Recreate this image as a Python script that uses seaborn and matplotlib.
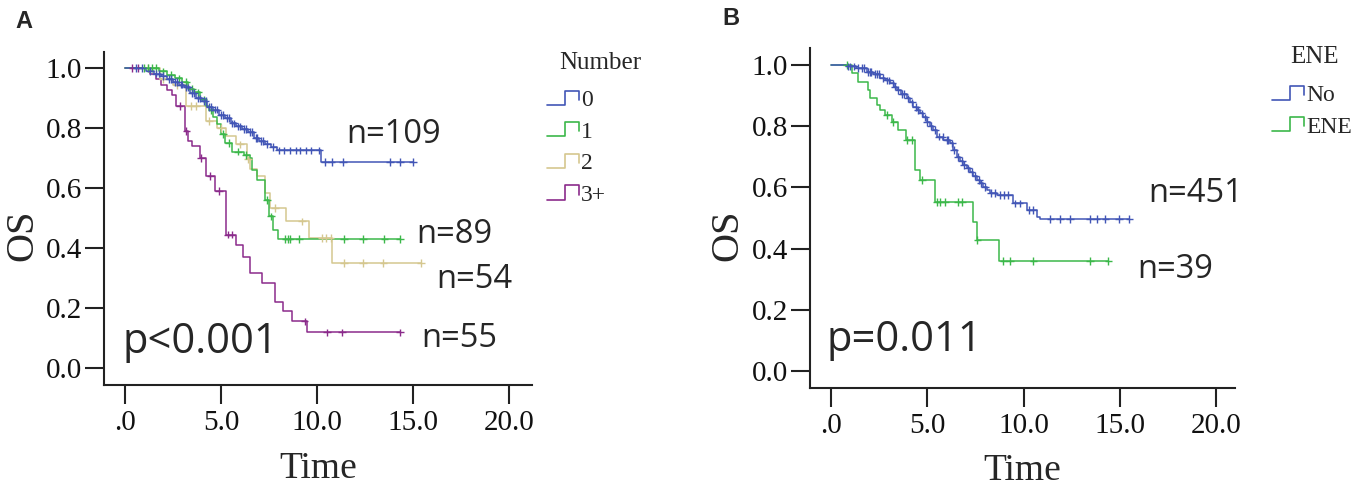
import numpy as np
import pandas as pd
import seaborn as sns
import matplotlib
matplotlib.use("Agg")
import matplotlib.pyplot as plt
from matplotlib.lines import Line2D
from matplotlib.legend_handler import HandlerBase

# ---------------- data ----------------
# Panel A: Kaplan-Meier steps per "Number" group
a_groups = ["0", "1", "2", "3+"]
a0_time = [0, 1.1, 1.5, 1.9, 2.2, 2.5, 2.8, 3.1, 3.4, 3.7, 4.0, 4.3, 4.6, 4.9, 5.2, 5.5, 5.8, 6.1, 6.4, 6.7, 7.0, 7.3, 7.6, 7.9, 10.2]
a0_surv = [1.0, 0.991, 0.982, 0.973, 0.963, 0.954, 0.945, 0.936, 0.917, 0.899, 0.890, 0.871, 0.862, 0.844, 0.834, 0.816, 0.806, 0.797, 0.788, 0.768, 0.758, 0.748, 0.737, 0.726, 0.688]
a0_cens = [0.6, 0.9, 1.3, 1.6, 1.8, 2.0, 2.3, 2.4, 2.6, 2.7, 2.9, 3.0, 3.2, 3.3, 3.5, 3.6, 3.8, 3.9, 4.1, 4.2, 4.4, 4.5, 4.7, 4.8, 5.0, 5.1, 5.3, 5.4, 5.6, 5.7, 5.9, 6.0, 6.2, 6.3, 6.5, 6.6, 6.8, 6.9, 7.1, 7.2, 7.4, 7.7, 8.0, 8.3, 8.6, 8.9, 9.1, 9.4, 9.7, 10.1, 10.4, 10.75, 11.35, 13.8, 14.3, 15.0]

a1_time = [0, 1.8, 2.2, 2.6, 3.0, 3.3, 3.6, 3.9, 4.2, 4.4, 4.6, 4.8, 5.0, 5.2, 5.6, 6.2, 6.5, 6.6, 6.85, 7.3, 7.5, 7.7, 7.95]
a1_surv = [1.0, 0.989, 0.977, 0.966, 0.954, 0.931, 0.919, 0.896, 0.873, 0.861, 0.838, 0.815, 0.78, 0.75, 0.722, 0.711, 0.70, 0.661, 0.628, 0.561, 0.506, 0.461, 0.43]
a1_cens = [1.0, 1.2, 1.4, 1.6, 2.0, 2.4, 2.8, 3.2, 3.5, 3.8, 4.1, 4.5, 5.1, 5.4, 5.9, 6.3, 7.4, 7.6, 8.35, 8.5, 8.6, 9.05, 11.4, 12.4, 13.5, 14.3]

a2_time = [0, 1.85, 2.5, 3.2, 4.2, 4.8, 5.25, 5.8, 6.35, 6.5, 6.85, 7.3, 7.55, 8.4, 9.6, 10.8]
a2_surv = [1.0, 0.963, 0.944, 0.874, 0.824, 0.80, 0.774, 0.746, 0.696, 0.663, 0.64, 0.585, 0.533, 0.489, 0.433, 0.35]
a2_cens = [1.2, 2.0, 2.7, 3.45, 3.7, 4.4, 5.0, 6.0, 6.4, 7.8, 9.2, 10.25, 10.45, 10.7, 11.4, 12.4, 13.45, 15.4]

a3_time = [0, 1.3, 1.6, 1.9, 2.2, 2.45, 2.65, 3.15, 3.3, 3.5, 3.9, 4.2, 4.7, 5.25, 5.8, 6.15, 6.5, 7.15, 7.8, 8.25, 8.7, 9.5]
a3_surv = [1.0, 0.982, 0.964, 0.945, 0.927, 0.909, 0.873, 0.79, 0.757, 0.739, 0.70, 0.64, 0.59, 0.445, 0.41, 0.37, 0.317, 0.285, 0.222, 0.189, 0.156, 0.119]
a3_cens = [0.4, 0.7, 2.85, 3.2, 3.95, 4.45, 4.9, 5.35, 5.55, 9.35, 10.5, 11.3, 14.3]

a_n = ["n=109", "n=89", "n=54", "n=55"]
a_p = "p<0.001"

# Panel B: ENE status
b_groups = ["No", "ENE"]
b0_time = [0, 0.8, 1.3, 1.85, 2.2, 2.55, 2.8, 3.06, 3.25, 3.41, 3.65, 3.93, 4.1, 4.28, 4.45, 4.62, 4.8, 4.97, 5.15, 5.32,
           5.49, 5.84, 6.18, 6.35, 6.53, 6.7, 6.87, 7.05, 7.22, 7.4, 7.57, 7.75, 7.91, 8.1, 8.26, 8.61, 9.47, 10.16, 10.68, 10.85]
b0_surv = [1.0, 0.996, 0.99, 0.978, 0.97, 0.958, 0.95, 0.94, 0.93, 0.918, 0.905, 0.891, 0.878, 0.864, 0.853, 0.842, 0.829, 0.815, 0.80, 0.788,
           0.766, 0.755, 0.744, 0.722, 0.70, 0.686, 0.673, 0.662, 0.651, 0.637, 0.624, 0.613, 0.602, 0.59, 0.581, 0.575, 0.548, 0.526, 0.504, 0.497]
b0_cens = [0.9, 1.0, 1.2, 1.4, 1.6, 1.7, 1.9, 2.0, 2.1, 2.3, 2.4, 2.5, 2.7, 2.9, 3.0, 3.2, 3.3, 3.5, 3.7, 3.8, 4.0, 4.2, 4.4, 4.5,
           4.7, 4.9, 5.0, 5.2, 5.4, 5.6, 5.8, 6.0, 6.1, 6.3, 6.4, 6.6, 6.8, 6.9, 7.1, 7.3, 7.5, 7.7, 7.8, 8.0, 8.3, 8.5, 8.8, 9.0,
           9.2, 9.55, 9.8, 10.3, 10.5, 11.4, 11.9, 12.4, 13.45, 13.8, 14.25, 14.95, 15.5]

b1_time = [0, 1.07, 1.42, 1.9, 2.05, 2.37, 2.55, 2.81, 3.15, 3.5, 3.9, 4.36, 4.62, 5.4, 7.39, 7.57, 8.73]
b1_surv = [1.0, 0.973, 0.946, 0.918, 0.891, 0.869, 0.853, 0.837, 0.815, 0.788, 0.755, 0.657, 0.624, 0.553, 0.488, 0.428, 0.359]
b1_cens = [0.81, 2.89, 3.24, 3.93, 4.19, 4.71, 5.49, 5.66, 5.92, 6.61, 6.79, 7.6, 8.95, 9.3, 10.51, 13.45, 14.41]

b_n = ["n=451", "n=39"]
b_p = "p=0.011"

x_ticks = [0, 5, 10, 15, 20]
x_ticklabels = [".0", "5.0", "10.0", "15.0", "20.0"]
y_ticks = [0.0, 0.2, 0.4, 0.6, 0.8, 1.0]
y_ticklabels = ["0.0", "0.2", "0.4", "0.6", "0.8", "1.0"]

COL_BLUE = "#4256b6"
COL_GREEN = "#3cb84a"
COL_TAN = "#d5c78f"
COL_PURPLE = "#8b2b8b"

SERIF = ["Liberation Serif", "DejaVu Serif"]
SANS = ["Open Sans", "DejaVu Sans"]


def km_frames(series):
    curves, cens = [], []
    for name, times, surv, c in series:
        t = np.asarray(times, float)
        s = np.asarray(surv, float)
        end = max(c)
        curves.append(pd.DataFrame({"time": np.append(t, end), "surv": np.append(s, s[-1]), "group": name}))
        idx = np.searchsorted(t, c, side="right") - 1
        cens.append(pd.DataFrame({"time": c, "surv": s[idx], "group": name}))
    return pd.concat(curves, ignore_index=True), pd.concat(cens, ignore_index=True)


class StepHandler(HandlerBase):
    # SPSS style step icon in the legend
    def create_artists(self, legend, orig_handle, xdescent, ydescent, width, height, fontsize, trans):
        xs = np.array([0, 0.55, 0.55, 1.0, 1.0]) * width - xdescent
        ys = np.array([0.0, 0.0, 1.0, 1.0, 0.35]) * height - ydescent
        ln = Line2D(xs, ys, color=orig_handle.get_color(), lw=1.2)
        ln.set_transform(trans)
        return [ln]


def style_axis(ax, xlim, ylim, label_x):
    ax.set_xlim(*xlim)
    ax.set_ylim(*ylim)
    ax.set_xticks(x_ticks)
    ax.set_xticklabels(x_ticklabels)
    ax.set_yticks(y_ticks)
    ax.set_yticklabels(y_ticklabels)
    for sp in ["top", "right"]:
        ax.spines[sp].set_visible(False)
    for sp in ["left", "bottom"]:
        ax.spines[sp].set_linewidth(1.5)
        ax.spines[sp].set_color("#222222")
    ax.tick_params(axis="both", direction="out", length=14, width=1.5, color="#222222",
                   bottom=True, left=True, labelsize=21, labelcolor="#111111")
    ax.tick_params(axis="x", pad=4)
    ax.tick_params(axis="y", pad=2)
    for lab in ax.get_xticklabels() + ax.get_yticklabels():
        lab.set_family(SERIF)
    ax.set_xlabel("Time", fontsize=27, family=SERIF, labelpad=11)
    ax.set_ylabel("OS", fontsize=29, family=SERIF)
    ax.yaxis.label.set_verticalalignment("baseline")
    ax.yaxis.set_label_coords(label_x, 0.45)
    ax.grid(False)


def step_legend(handles, labels, anchor):
    return fig.legend(handles, labels, loc="upper left", bbox_to_anchor=anchor, frameon=False,
                      borderpad=0, borderaxespad=0, handler_map={Line2D: StepHandler()},
                      handlelength=1.35, handleheight=0.55, handletextpad=0.1, labelspacing=0.45,
                      prop={"family": SERIF, "size": 17})


sns.set_style("white")
plt.rcParams["font.family"] = SERIF

fig = plt.figure(figsize=(13.58, 4.88), dpi=100)
axA = fig.add_axes([0.0766, 0.2111, 0.3152, 0.6824])
axB = fig.add_axes([0.5965, 0.2055, 0.3130, 0.6955])

# ---------------- panel A ----------------
palA = {"0": COL_BLUE, "1": COL_GREEN, "2": COL_TAN, "3+": COL_PURPLE}
curvesA, censA = km_frames([
    ("3+", a3_time, a3_surv, a3_cens),
    ("2", a2_time, a2_surv, a2_cens),
    ("1", a1_time, a1_surv, a1_cens),
    ("0", a0_time, a0_surv, a0_cens),
])
sns.lineplot(data=curvesA, x="time", y="surv", hue="group", palette=palA, hue_order=["3+", "2", "1", "0"],
             drawstyle="steps-post", estimator=None, sort=False, legend=False, linewidth=1.1, ax=axA)
sns.scatterplot(data=censA, x="time", y="surv", hue="group", palette=palA, hue_order=["3+", "2", "1", "0"],
                marker="+", s=30, linewidth=1.0, legend=False, ax=axA, zorder=3)
style_axis(axA, (-1.08, 21.18), (-0.056, 1.054), -0.168)

for label, (tx, ty) in zip(a_n, [(11.5, 0.778), (15.15, 0.444), (16.2, 0.294), (15.4, 0.10)]):
    axA.text(tx, ty, label, family=SANS, fontsize=23.5, ha="left", va="center")
axA.text(-0.1, 0.088, a_p, family=SANS, fontsize=30, ha="left", va="center")

handlesA = [Line2D([], [], color=palA[g]) for g in a_groups]
step_legend(handlesA, a_groups, (547 / 1358, 1 - 90 / 488))
fig.text(600 / 1358, 1 - 63 / 488, "Number", family=SERIF, fontsize=18, ha="center", va="center")

# ---------------- panel B ----------------
palB = {"No": COL_BLUE, "ENE": COL_GREEN}
curvesB, censB = km_frames([
    ("ENE", b1_time, b1_surv, b1_cens),
    ("No", b0_time, b0_surv, b0_cens),
])
sns.lineplot(data=curvesB, x="time", y="surv", hue="group", palette=palB, hue_order=["ENE", "No"],
             drawstyle="steps-post", estimator=None, sort=False, legend=False, linewidth=1.1, ax=axB)
sns.scatterplot(data=censB, x="time", y="surv", hue="group", palette=palB, hue_order=["ENE", "No"],
                marker="+", s=30, linewidth=1.0, legend=False, ax=axB, zorder=3)
style_axis(axB, (-1.09, 20.99), (-0.055, 1.055), -0.172)

for label, (tx, ty) in zip(b_n, [(16.5, 0.581), (15.9, 0.33)]):
    axB.text(tx, ty, label, family=SANS, fontsize=23.5, ha="left", va="center")
axB.text(-0.25, 0.10, b_p, family=SANS, fontsize=30, ha="left", va="center")

handlesB = [Line2D([], [], color=palB[g]) for g in b_groups]
step_legend(handlesB, b_groups, (1272 / 1358, 1 - 85 / 488))
fig.text(1314 / 1358, 1 - 57 / 488, "ENE", family=SERIF, fontsize=18, ha="center", va="center")

# panel letters
fig.text(0.011, 0.955, "A", family=["Liberation Sans", "DejaVu Sans"], fontweight="bold", fontsize=17, va="center")
fig.text(0.532, 0.962, "B", family=["Liberation Sans", "DejaVu Sans"], fontweight="bold", fontsize=17, va="center")

fig.savefig("out.png", dpi=100)
